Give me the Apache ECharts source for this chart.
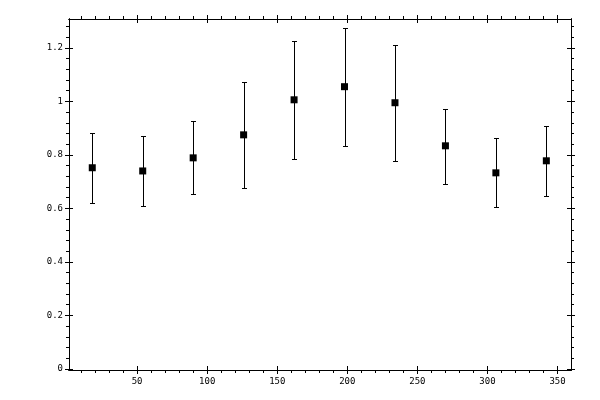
<!DOCTYPE html>
<html>
<head>
<meta charset="utf-8">
<script src="https://cdn.jsdelivr.net/npm/echarts@6/dist/echarts.min.js"></script>
<style>
    html, body { margin: 0; padding: 0; background: #fff; }
    #chart { width: 600px; height: 400px; }
</style>
</head>
<body>
<div id="chart"></div>
<script>
// 数据
const xValues  = [18, 54, 90, 126, 162, 198, 234, 270, 306, 342];
const yValues  = [0.752, 0.740, 0.789, 0.875, 1.006, 1.055, 0.995, 0.834, 0.733, 0.778];
const yLower   = [0.621, 0.609, 0.654, 0.677, 0.785, 0.834, 0.778, 0.692, 0.606, 0.647];
const yUpper   = [0.883, 0.870, 0.928, 1.074, 1.227, 1.276, 1.212, 0.971, 0.863, 0.909];
const xMajor   = [50, 100, 150, 200, 250, 300, 350];
const yMajor   = [0, 0.2, 0.4, 0.6, 0.8, 1, 1.2];

const X_MIN = 1.4, X_MAX = 359.6;
const Y_MIN = -0.004, Y_MAX = 1.308;

// 次刻度
let xMinor = [];
for (let v = 10; v < X_MAX; v += 10) { if (v % 50 !== 0) xMinor.push(v); }
let yMinor = [];
for (let i = 1; i * 0.04 < Y_MAX; i++) { if (i % 5 !== 0) yMinor.push(+(i * 0.04).toFixed(2)); }

const FONT = { fontFamily: 'DejaVu Sans Mono', fontSize: 9, color: '#000' };

/**
 *  生成一个坐标轴 (只画刻度, 可选标签)
 */
function makeAxis(dim, position, ticks, len, inside, labels) {
    let axis = {
        type: 'value',
        position: position,
        min: dim === 'x' ? X_MIN : Y_MIN,
        max: dim === 'x' ? X_MAX : Y_MAX,
        axisLine: { show: true, onZero: false, lineStyle: { color: '#000', width: 1 } },
        splitLine: { show: false },
        axisTick: {
            show: true, inside: inside, length: len,
            customValues: ticks,
            lineStyle: { color: '#000', width: 1 }
        },
        axisLabel: { show: false }
    };
    if (labels) {
        axis.axisLabel = Object.assign({
            show: true,
            customValues: labels,
            margin: dim === 'x' ? 7 : 6,
            formatter: v => String(+v.toFixed(2))
        }, FONT);
    }
    return axis;
}

let xAxes = [
    makeAxis('x', 'bottom', xMajor, 4, false, xMajor),
    makeAxis('x', 'bottom', xMajor, 4, true),
    makeAxis('x', 'bottom', xMinor, 3, false),
    makeAxis('x', 'top', xMajor, 4, false),
    makeAxis('x', 'top', xMajor, 4, true),
    makeAxis('x', 'top', xMinor, 3, false)
];
let yAxes = [
    makeAxis('y', 'left', yMajor, 4, false, yMajor),
    makeAxis('y', 'left', yMajor, 4, true),
    makeAxis('y', 'left', yMinor, 3, false),
    makeAxis('y', 'right', yMajor, 4, false),
    makeAxis('y', 'right', yMajor, 4, true),
    makeAxis('y', 'right', yMinor, 3, false)
];

let points = xValues.map((x, i) => [x, yValues[i]]);
let bars   = xValues.map((x, i) => [x, yLower[i], yUpper[i]]);

let chart = echarts.init(document.getElementById('chart'), null, { renderer: 'canvas' });
let option = {
    animation: false,
    backgroundColor: '#fff',
    grid: { left: 69, right: 29, top: 19, bottom: 30, containLabel: false },
    xAxis: xAxes,
    yAxis: yAxes,
    series: [{
        // 误差线
        type: 'custom',
        xAxisIndex: 0,
        yAxisIndex: 0,
        data: bars,
        renderItem: function (params, api) {
            let x = api.value(0);
            let lo = api.coord([x, api.value(1)]);
            let hi = api.coord([x, api.value(2)]);
            // 对齐像素, 线条清晰
            let px = Math.round(lo[0]) + 0.5;
            let y1 = Math.round(lo[1]) + 0.5;
            let y2 = Math.round(hi[1]) + 0.5;
            let cap = 2.5;
            let style = { stroke: '#000', lineWidth: 1 };
            return {
                type: 'group',
                children: [
                    { type: 'line', shape: { x1: px, y1: y1, x2: px, y2: y2 }, style: style },
                    { type: 'line', shape: { x1: px - cap, y1: y2, x2: px + cap, y2: y2 }, style: style },
                    { type: 'line', shape: { x1: px - cap, y1: y1, x2: px + cap, y2: y1 }, style: style }
                ]
            };
        },
        z: 2
    }, {
        type: 'scatter',
        xAxisIndex: 0,
        yAxisIndex: 0,
        data: points,
        symbol: 'rect',
        symbolSize: 7,
        itemStyle: { color: '#000', opacity: 1 },
        z: 3
    }]
};
chart.setOption(option);
</script>
</body>
</html>
